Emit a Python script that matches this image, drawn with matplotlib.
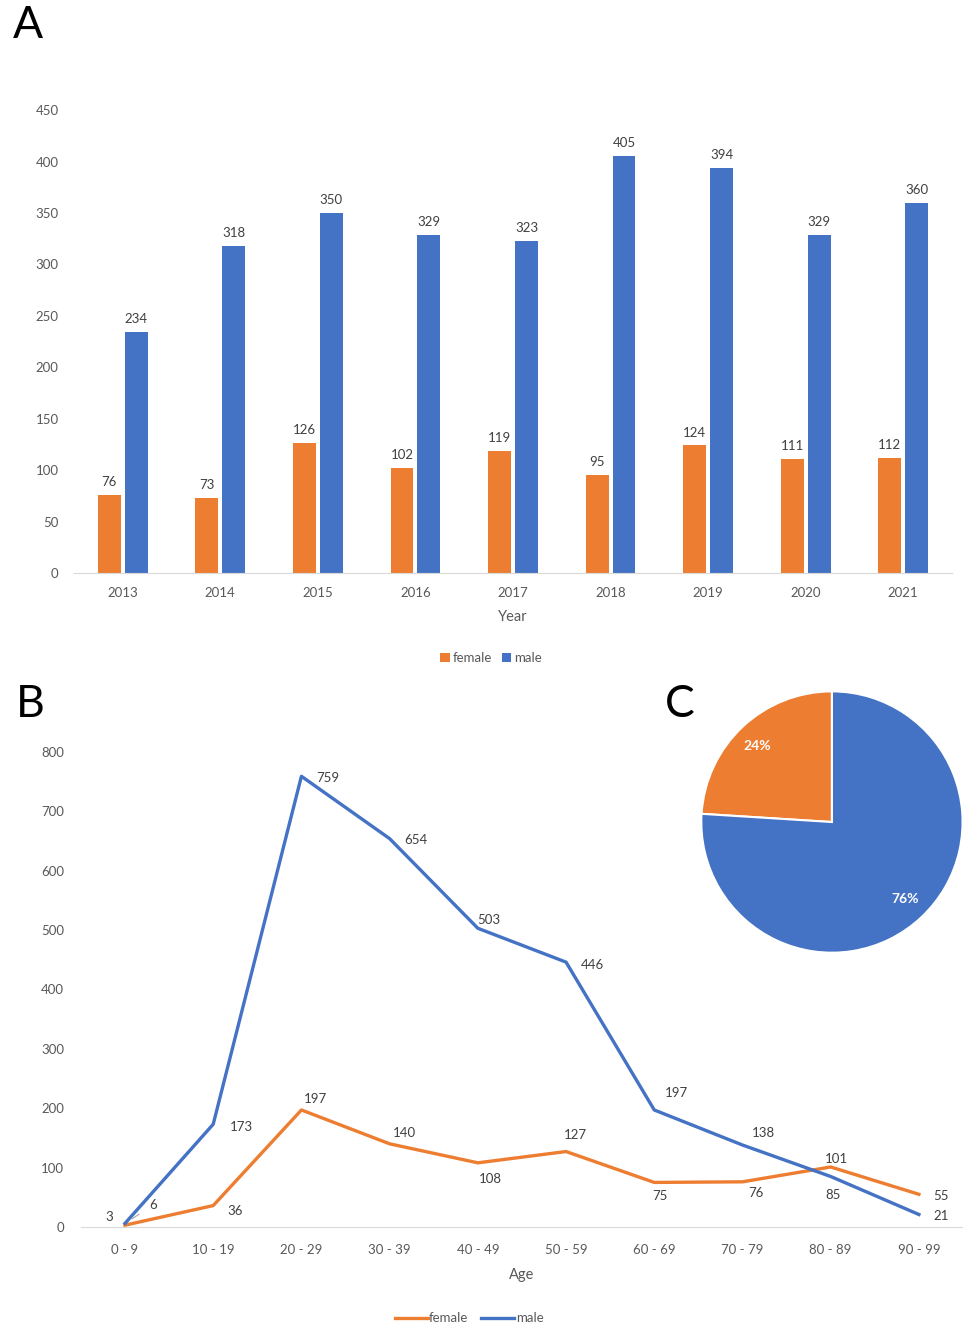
import matplotlib.pyplot as plt
import numpy as np

plt.rcParams['font.family'] = ['Lato', 'DejaVu Sans']

years = ['2013', '2014', '2015', '2016', '2017', '2018', '2019', '2020', '2021']
female_year = [76, 73, 126, 102, 119, 95, 124, 111, 112]
male_year = [234, 318, 350, 329, 323, 405, 394, 329, 360]

ages = ['0 - 9', '10 - 19', '20 - 29', '30 - 39', '40 - 49', '50 - 59',
        '60 - 69', '70 - 79', '80 - 89', '90 - 99']
female_age = [3, 36, 197, 140, 108, 127, 75, 76, 101, 55]
male_age = [6, 173, 759, 654, 503, 446, 197, 138, 85, 21]

pie_labels = ['female', 'male']
pie_share = [24, 76]

orange = '#ED7D31'
blue = '#4472C4'
gray = '#595959'

fig = plt.figure(figsize=(9.63, 13.25), dpi=100)

# ---- A: bars per year
ax = fig.add_axes([0.0768, 0.5675, 0.9118, 0.3494])
x = np.arange(len(years))
w = 0.235
b1 = ax.bar(x - 0.138, female_year, w, color=orange, label='female')
b2 = ax.bar(x + 0.138, male_year, w, color=blue, label='male')
ax.bar_label(b1, padding=5, fontsize=9.5, color='#404040')
ax.bar_label(b2, padding=5, fontsize=9.5, color='#404040')
ax.set_xlim(-0.5, len(years) - 0.5)
ax.set_ylim(0, 450)
ax.set_yticks(range(0, 451, 50))
ax.set_xticks(x)
ax.set_xticklabels(years)
for s in ['top', 'right', 'left']:
    ax.spines[s].set_visible(False)
ax.spines['bottom'].set_color('#d9d9d9')
ax.tick_params(length=0, labelsize=9.5, labelcolor=gray)
ax.tick_params(axis='y', pad=11)
ax.tick_params(axis='x', pad=10)
ax.set_xlabel('Year', fontsize=10.5, color=gray, labelpad=8)
ax.legend(loc='upper center', bbox_to_anchor=(0.475, -0.145), ncol=2, frameon=False,
          fontsize=9.5, labelcolor=gray, handlelength=0.7, handleheight=0.7,
          handletextpad=0.2, columnspacing=0.8)

# ---- B: line per age group
bx = fig.add_axes([0.084, 0.074, 0.916, 0.3585])
xa = np.arange(len(ages))
bx.plot(xa, female_age, color=orange, lw=2.4, label='female')
bx.plot(xa, male_age, color=blue, lw=2.4, label='male')
f_off = [(-11, 6), (16, -4), (10, 8), (11, 8), (9, -12), (7, 12), (4, -10),
         (10, -8), (4, 6), (16, -1)]
m_off = [(20, 13), (20, -2), (19, -1), (19, -1), (8, 6), (19, -2), (16, 12),
         (15, 9), (2, -13), (16, -1)]
for i, v in enumerate(female_age):
    bx.annotate(str(v), (xa[i], v), xytext=f_off[i], textcoords='offset points',
                ha='center', va='center', fontsize=9.5, color='#404040')
for i, v in enumerate(male_age):
    arrow = None
    if i == 0:
        arrow = dict(arrowstyle='-', color='#a6a6a6', lw=0.8, shrinkA=6, shrinkB=6)
    bx.annotate(str(v), (xa[i], v), xytext=m_off[i], textcoords='offset points',
                ha='center', va='center', fontsize=9.5, color='#404040',
                arrowprops=arrow)
bx.set_xlim(-0.5, len(ages) - 0.5)
bx.set_ylim(0, 800)
bx.set_yticks(range(0, 801, 100))
bx.set_xticks(xa)
bx.set_xticklabels(ages)
for s in ['top', 'right', 'left']:
    bx.spines[s].set_visible(False)
bx.spines['bottom'].set_color('#d9d9d9')
bx.tick_params(length=0, labelsize=9.5, labelcolor=gray)
bx.tick_params(axis='y', pad=12)
bx.tick_params(axis='x', pad=12)
bx.set_xlabel('Age', fontsize=10.5, color=gray, labelpad=9)
bx.legend(loc='upper center', bbox_to_anchor=(0.44, -0.155), ncol=2, frameon=False,
          fontsize=9.5, labelcolor=gray, handlelength=2.5, handletextpad=0.1,
          columnspacing=1.0)

# ---- C: pie of totals
cx = fig.add_axes([0.7269, 0.28, 0.274, 0.1992])
wedges, texts = cx.pie(pie_share, colors=[orange, blue], startangle=90,
                       counterclock=True,
                       wedgeprops=dict(edgecolor='white', linewidth=1.5))
cx.text(-0.57, 0.58, '24%', color='white', fontsize=10, fontweight='bold',
        ha='center', va='center')
cx.text(0.56, -0.59, '76%', color='white', fontsize=10, fontweight='bold',
        ha='center', va='center')
cx.set_xlim(-1.01, 1.01)
cx.set_ylim(-1.01, 1.01)
cx.set_aspect('auto')

fig.text(0.013, 0.996, 'A', fontsize=32, va='top', ha='left')
fig.text(0.016, 0.4835, 'B', fontsize=32, va='top', ha='left')
fig.text(0.69, 0.4835, 'C', fontsize=32, va='top', ha='left')

fig.savefig('out.png', dpi=100, facecolor='white')
